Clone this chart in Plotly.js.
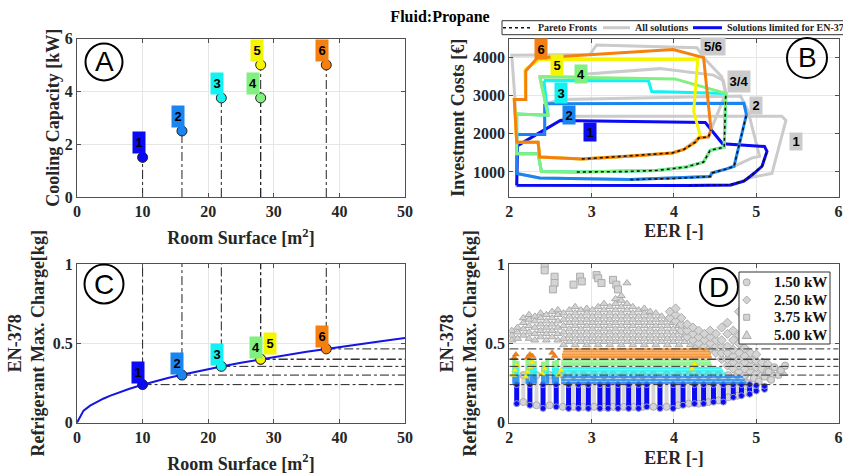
<!DOCTYPE html>
<html><head><meta charset="utf-8">
<script src="https://cdn.plot.ly/plotly-3.0.1.min.js"></script>
<style>html,body{margin:0;padding:0;background:#fff}#chart{width:843px;height:474px}</style>
</head><body><div id="chart"></div>
<script>
// ================= DATA =================
// Panels A and C : the six units
const unitLabels = ['1','2','3','4','5','6'];
const roomSurface = [10, 16, 22, 28, 28, 38];
const coolingCapacity = [1.5, 2.5, 3.75, 3.75, 5, 5];
const maxCharge = [0.24, 0.30, 0.355, 0.40, 0.40, 0.465];

// Panel C : EN-378 limit curve
const limitSurface = [0,1,2,3,4,5,6,8,10,12,14,16,18,20,22,25,28,30,33,35,38,40,43,45,48,50];
const limitCharge  = [0,0.076,0.107,0.131,0.151,0.169,0.185,0.214,0.239,0.262,0.283,0.302,0.320,0.338,0.354,0.378,0.400,0.414,0.434,0.447,0.465,0.478,0.495,0.506,0.523,0.534];

// Panel B : solution envelopes (EER, investment cost)
const allSol1X = [2.10,2.62,2.70,5.31,5.36,5.19,4.96,4.69,2.09,2.10];
const allSol1Y = [1690,2350,2460,2460,2350,960,870,650,640,1690];
const allSol2X = [2.43,2.64,4.81,4.90,5.04,4.95,4.73,4.64,4.46,4.44,3.47,2.37,2.09,2.09,2.43,2.43];
const allSol2Y = [2790,2900,2990,2600,1410,1370,1150,1080,975,880,800,840,960,1980,1980,2790];
const allSol34X = [2.47,2.37,2.80,2.90,3.83,4.48,4.60,4.63,4.61,4.44,4.36,4.15,3.79,2.82,2.39,2.35,2.09,2.09,2.47];
const allSol34Y = [2490,3500,3490,3560,3710,3540,3400,3060,1650,1570,1260,1130,1040,1000,1010,1480,1480,2520,2490];
const allSol56X = [2.07,2.03,2.98,3.06,4.28,4.36,4.58,4.63,4.45,4.42,4.30,4.12,3.98,2.88,2.37,2.35,2.09,2.07];
const allSol56Y = [2880,4060,4080,4330,4260,4000,3500,3060,2110,1920,1890,1590,1500,1340,1390,1780,1780,2880];

const lim1X = [2.09,2.10,2.62,4.38,4.41,4.59,5.10,5.13,5.07,4.97,4.85,4.69,4.18,2.09];
const lim1Y = [650,1690,2350,2300,2220,1740,1670,1540,1150,960,760,660,645,650];
const lim2X = [2.43,4.85,4.88,4.73,4.64,4.46,4.44,3.47,2.37,2.09,2.09,2.43,2.43];
const lim2Y = [2790,2800,2500,1150,1080,975,880,800,840,960,1980,1980,2790];
const lim3X = [2.42,3.69,3.73,4.63,4.61,4.44,4.36,4.15,3.79,2.82,2.39,2.35,2.09,2.09,2.47,2.42];
const lim3Y = [3400,3390,3110,3060,1650,1570,1260,1130,1040,1000,1010,1480,1480,2520,2490,3400];
const lim4X = [2.37,4.01,4.63,4.61,4.44,4.36,4.15,3.79,2.82,2.39,2.35,2.09,2.09,2.47,2.37];
const lim4Y = [3500,3440,3060,1650,1570,1260,1130,1040,1000,1010,1480,1480,2520,2490,3500];
const lim5X = [2.19,2.37,4.29,4.24,4.32,4.26,4.18,4.12,3.98,3.50,2.88,2.37,2.35,2.09,2.06,2.20,2.19];
const lim5Y = [3690,3950,3950,2590,1950,1780,1670,1590,1500,1420,1340,1390,1780,1780,2900,2900,3690];
const lim6X = [2.34,3.99,4.36,4.45,4.42,4.30,4.26,4.18,4.12,3.98,3.50,2.88,2.37,2.35,2.09,2.06,2.20,2.20,2.34];
const lim6Y = [3990,4210,4000,2110,1920,1890,1780,1670,1590,1500,1420,1340,1390,1780,1780,2900,2900,3650,3990];

const pareto1X = [4.18,4.65,4.85,4.97,5.07,5.13];
const pareto1Y = [645,660,760,960,1150,1540];
const pareto2X = [3.47,4.00,4.44,4.46,4.64,4.73,4.88];
const pareto2Y = [800,830,880,975,1080,1150,2500];
const pareto34X = [2.82,3.40,3.79,4.15,4.36,4.44,4.61,4.63];
const pareto34Y = [1000,1010,1040,1130,1260,1570,1650,3060];
const pareto56X = [2.88,3.50,3.98,4.12,4.18,4.26,4.30,4.42,4.45];
const pareto56Y = [1340,1420,1500,1590,1670,1780,1890,1920,2110];

// Panel D : all solutions (gray), [EER, list of charges]
const tri5kW = [[2.03,[0.52,0.55,0.58]],[2.10,[0.53,0.57,0.60]],[2.17,[0.55,0.59,0.63,0.66]],[2.24,[0.53,0.57,0.61,0.65,0.68]],
 [2.31,[0.52,0.56,0.60,0.64,0.67]],[2.38,[0.54,0.58,0.62,0.66,0.69]],[2.45,[0.52,0.56,0.60,0.64,0.68]],[2.52,[0.54,0.58,0.62,0.66,0.70]],
 [2.59,[0.52,0.56,0.60,0.64,0.68,0.71]],[2.66,[0.49,0.53,0.57,0.61,0.65,0.69]],[2.73,[0.51,0.55,0.59,0.63,0.67,0.71]],
 [2.80,[0.49,0.53,0.57,0.61,0.65,0.69,0.73]],[2.87,[0.51,0.55,0.59,0.63,0.67,0.71]],[2.94,[0.49,0.53,0.57,0.61,0.65,0.69,0.72]],
 [3.01,[0.51,0.55,0.59,0.63,0.67,0.71]],[3.08,[0.49,0.53,0.57,0.61,0.65,0.69,0.73]],[3.15,[0.51,0.55,0.59,0.63,0.67,0.71,0.75]],
 [3.22,[0.49,0.53,0.57,0.61,0.65,0.69,0.73]],[3.29,[0.51,0.55,0.59,0.63,0.67,0.71,0.75,0.78]],[3.36,[0.49,0.53,0.57,0.61,0.65,0.69,0.73,0.77,0.80]],
 [3.43,[0.51,0.55,0.59,0.63,0.67,0.71,0.75,0.88]],[3.50,[0.49,0.53,0.57,0.61,0.65,0.69,0.73]],[3.57,[0.51,0.55,0.59,0.63,0.67,0.71]],
 [3.64,[0.49,0.53,0.57,0.61,0.65,0.69,0.72]],[3.71,[0.51,0.55,0.59,0.63,0.67,0.70]],[3.78,[0.49,0.53,0.57,0.61,0.65,0.69]],
 [3.85,[0.51,0.55,0.59,0.63,0.67]],[3.92,[0.49,0.53,0.57,0.61,0.65]],[3.99,[0.51,0.55,0.59,0.63]],[4.06,[0.49,0.53,0.57,0.61]],
 [4.13,[0.51,0.55,0.59]],[4.20,[0.49,0.53,0.57]],[4.27,[0.48,0.52,0.56]],[4.34,[0.48,0.52]],[5.25,[0.30,0.34]],[5.33,[0.31,0.35]]];
const dia2p5kW = [[3.95,[0.66,0.70]],[4.02,[0.64,0.68,0.72]],[4.09,[0.58,0.62,0.66]],[4.16,[0.54,0.58,0.62]],[4.23,[0.52,0.56,0.60]],
 [4.30,[0.50,0.54,0.58]],[4.37,[0.48,0.52,0.56]],[4.44,[0.47,0.50,0.54,0.58]],[4.51,[0.44,0.48,0.52,0.56]],[4.58,[0.40,0.44,0.48,0.52,0.60]],
 [4.65,[0.36,0.40,0.44,0.48,0.56,0.63]],[4.72,[0.34,0.38,0.42,0.46,0.52,0.58]],[4.79,[0.32,0.36,0.40,0.44,0.50,0.55,0.70]],
 [4.86,[0.30,0.34,0.38,0.42,0.47]],[4.93,[0.32,0.36,0.40,0.44,0.58,0.64]],[5.00,[0.31,0.35,0.39,0.43,0.52,0.56,0.61]],
 [5.07,[0.30,0.34,0.38]],[5.14,[0.29,0.33,0.37]],[5.20,[0.30,0.34]]];
const sq3p75kWX = [2.43,2.43,2.55,2.55,2.53,2.78,2.86,2.88,3.06,3.08,3.12,3.26,3.30,3.32];
const sq3p75kWY = [0.99,0.96,0.92,0.88,0.84,0.87,0.92,0.89,0.93,0.91,0.88,0.90,0.87,0.84];
const circ1p5kWX = [4.90,4.97,5.03,5.10,5.15,5.18,5.22,5.27,5.30,5.35];
const circ1p5kWY = [0.25,0.28,0.26,0.29,0.32,0.27,0.35,0.30,0.33,0.36];
// gray columns among the low-charge solutions
const grayColX  = [2.17,2.33,2.49,2.65,2.78,2.90,3.03,3.15,3.26,3.39,3.51,3.62,3.75,3.91,4.05,4.18,4.30,4.42,4.54,4.66,4.77,4.87];
const grayColLo = [0.13,0.11,0.11,0.10,0.10,0.10,0.10,0.10,0.10,0.10,0.10,0.10,0.10,0.10,0.11,0.12,0.12,0.13,0.14,0.16,0.17,0.19];
const grayColHi = [0.30,0.30,0.30,0.30,0.30,0.30,0.30,0.30,0.30,0.30,0.30,0.30,0.30,0.30,0.30,0.30,0.30,0.30,0.30,0.30,0.30,0.30];
// Panel D : solutions limited for EN-378 (coloured)
const blueColX  = [2.09,2.25,2.41,2.57,2.72,2.84,2.96,3.10,3.20,3.32,3.45,3.57,3.67,3.83,3.99,4.11,4.25,4.36,4.48,4.60,4.72,4.82,4.92,5.00,5.10];
const blueColLo = [0.12,0.11,0.09,0.10,0.09,0.09,0.09,0.09,0.09,0.09,0.09,0.09,0.10,0.09,0.09,0.11,0.12,0.12,0.13,0.13,0.16,0.17,0.18,0.20,0.21];
const blueColHi = [0.24,0.24,0.24,0.24,0.24,0.24,0.24,0.24,0.24,0.24,0.24,0.24,0.24,0.24,0.24,0.24,0.24,0.24,0.24,0.24,0.24,0.24,0.24,0.235,0.23];
// dense bands (EER >= 2.63)
const lbRowY = [0.252,0.270,0.288];  const lbRowX0 = [2.63,2.63,2.63];  const lbRowX1 = [4.88,4.86,4.84];
const cyRowY = [0.310,0.327,0.344];  const cyRowX0 = [2.63,2.63,2.63];  const cyRowX1 = [4.62,4.60,4.58];
const grRowY = [0.363,0.378,0.393];  const grRowX0 = [2.63,2.63,2.63];  const grRowX1 = [4.46,4.45,4.44];
const orRowY = [0.412,0.430,0.448,0.462]; const orRowX0 = [2.64,2.64,2.65,2.66]; const orRowX1 = [4.46,4.45,4.44,4.40];
// sparse columns at low EER
const leftColX  = [2.06,2.10,2.22,2.27,2.31,2.41,2.46,2.54,2.58];
const lbLeftLo  = [0.245,0.245,0.245,0.245,0.245,0.245,0.245,0.245,0.245];
const lbLeftHi  = [0.300,0.300,0.300,0.295,0.300,0.300,0.295,0.300,0.300];
const cyLeftHi  = [0.350,0.345,0.355,0.350,0.350,0.345,0.350,0.350,0.345];
const grLeftHi  = [0.395,0.390,0.400,0.395,0.390,0.385,0.395,0.390,0.395];
const orPtX = [2.06,2.08,2.22,2.25,2.28,2.52,2.55];
const orPtY = [0.41,0.43,0.41,0.43,0.42,0.44,0.42];
const yelPtX = [2.05,2.07,2.09,2.20,2.22,2.25,2.28,2.40,2.43,2.60,2.63,4.22,4.25];
const yelPtY = [0.30,0.33,0.36,0.29,0.32,0.35,0.38,0.31,0.34,0.30,0.33,0.34,0.37];
const dLegendLabels = ['1.50 kW','2.50 kW','3.75 kW','5.00 kW'];

// ================= STYLE =================
const FONT = 'Liberation Serif, "Times New Roman", Times, serif';
const SANS = 'Liberation Sans, Arial, Helvetica, sans-serif';
const TXT = '#262626';
const unitColors = ['#0a0af5','#1a84f0','#12f2f2','#80f080','#f5f500','#f5800f'];
const GRAY = '#cbcbcb';
const TF = {family:FONT,size:18,color:TXT,weight:'bold'};

const traces = [];
function cols(list){ const x=[],y=[]; list.forEach(c=>c[1].forEach(v=>{x.push(c[0]);y.push(v);})); return {x,y}; }
function segsV(xs,lo,hi){ const x=[],y=[]; xs.forEach((v,i)=>{x.push(v,v,null);y.push(lo[i],hi[i],null);}); return {x,y}; }
function segsH(ys,x0,x1){ const x=[],y=[]; ys.forEach((v,i)=>{x.push(x0[i],x1[i],null);y.push(v,v,null);}); return {x,y}; }

// ---- Panel A
(function(){
  const x=[],y=[];
  roomSurface.forEach((r,i)=>{x.push(r,r,null);y.push(0,coolingCapacity[i],null);});
  traces.push({x,y,xaxis:'x',yaxis:'y',mode:'lines',line:{color:'#222',width:1,dash:'dashdot'},hoverinfo:'skip'});
  traces.push({x:roomSurface,y:coolingCapacity,xaxis:'x',yaxis:'y',mode:'markers',
    marker:{size:10,color:unitColors,line:{color:'#222',width:1}}});
})();

// ---- Panel C
(function(){
  const vx=[],vy=[],hx=[],hy=[];
  roomSurface.forEach((r,i)=>{vx.push(r,r,null);vy.push(maxCharge[i],1,null);hx.push(r,50,null);hy.push(maxCharge[i],maxCharge[i],null);});
  traces.push({x:vx,y:vy,xaxis:'x3',yaxis:'y3',mode:'lines',line:{color:'#222',width:1,dash:'dashdot'},hoverinfo:'skip'});
  traces.push({x:hx,y:hy,xaxis:'x3',yaxis:'y3',mode:'lines',line:{color:'#222',width:1,dash:'dashdot'},hoverinfo:'skip'});
  traces.push({x:limitSurface,y:limitCharge,xaxis:'x3',yaxis:'y3',mode:'lines',line:{color:'#1414e6',width:2}});
  traces.push({x:roomSurface,y:maxCharge,xaxis:'x3',yaxis:'y3',mode:'markers',
    marker:{size:10,color:unitColors,line:{color:'#222',width:1}}});
})();

// ---- Panel B
[[allSol1X,allSol1Y],[allSol2X,allSol2Y],[allSol34X,allSol34Y],[allSol56X,allSol56Y]].forEach(p=>{
  traces.push({x:p[0],y:p[1],xaxis:'x2',yaxis:'y2',mode:'lines',line:{color:GRAY,width:3}});
});
[[lim1X,lim1Y],[lim2X,lim2Y],[lim3X,lim3Y],[lim4X,lim4Y],[lim5X,lim5Y],[lim6X,lim6Y]].forEach((p,i)=>{
  traces.push({x:p[0],y:p[1],xaxis:'x2',yaxis:'y2',mode:'lines',line:{color:unitColors[i],width:3}});
});
[[pareto1X,pareto1Y],[pareto2X,pareto2Y],[pareto34X,pareto34Y],[pareto56X,pareto56Y]].forEach(p=>{
  traces.push({x:p[0],y:p[1],xaxis:'x2',yaxis:'y2',mode:'lines',line:{color:'#111',width:1.6,dash:'dot'}});
});

// ---- Panel D
(function(){
  const gMark = (sym)=>({symbol:sym,size:7,color:'#d4d4d4',line:{color:'#ababab',width:1}});
  let s = segsV(grayColX,grayColLo,grayColHi);
  traces.push({x:s.x,y:s.y,xaxis:'x4',yaxis:'y4',mode:'lines+markers',line:{color:'#d6d6d6',width:4},marker:gMark('circle')});
  let c = cols(tri5kW);
  traces.push({x:c.x,y:c.y,xaxis:'x4',yaxis:'y4',mode:'markers',marker:gMark('triangle-up'),name:'5.00 kW'});
  c = cols(dia2p5kW);
  traces.push({x:c.x,y:c.y,xaxis:'x4',yaxis:'y4',mode:'markers',marker:gMark('diamond'),name:'2.50 kW'});
  traces.push({x:sq3p75kWX,y:sq3p75kWY,xaxis:'x4',yaxis:'y4',mode:'markers',marker:gMark('square'),name:'3.75 kW'});
  traces.push({x:circ1p5kWX,y:circ1p5kWY,xaxis:'x4',yaxis:'y4',mode:'markers',marker:gMark('circle'),name:'1.50 kW'});
  s = segsV(blueColX,blueColLo,blueColHi);
  traces.push({x:s.x,y:s.y,xaxis:'x4',yaxis:'y4',mode:'lines+markers',line:{color:unitColors[0],width:5},
    marker:{symbol:'circle',size:6,color:unitColors[0],line:{color:'#9a9ad0',width:1}}});
  // left sparse columns
  [[lbLeftLo,lbLeftHi,1],[lbLeftHi,cyLeftHi,2],[cyLeftHi,grLeftHi,3]].forEach(b=>{
    const v = segsV(leftColX,b[0],b[1]);
    traces.push({x:v.x,y:v.y,xaxis:'x4',yaxis:'y4',mode:'lines',line:{color:unitColors[b[2]],width:4},opacity:0.85});
  });
  const bands = [[lbRowY,lbRowX0,lbRowX1,1],[cyRowY,cyRowX0,cyRowX1,2],[grRowY,grRowX0,grRowX1,3],[orRowY,orRowX0,orRowX1,5]];
  bands.forEach(b=>{
    const h = segsH(b[0],b[1],b[2]);
    traces.push({x:h.x,y:h.y,xaxis:'x4',yaxis:'y4',mode:'lines',line:{color:unitColors[b[3]],width:2.4},opacity:0.8});
  });
  traces.push({x:yelPtX,y:yelPtY,xaxis:'x4',yaxis:'y4',mode:'markers',marker:{symbol:'triangle-up',size:6,color:unitColors[4],line:{color:'#c8c850',width:0.5}}});
  traces.push({x:orPtX,y:orPtY,xaxis:'x4',yaxis:'y4',mode:'markers',marker:{symbol:'triangle-up',size:6,color:unitColors[5],line:{color:'#d07010',width:0.5}}});
  const hx=[],hy=[];
  maxCharge.forEach(m=>{hx.push(2,6,null);hy.push(m,m,null);});
  traces.push({x:hx,y:hy,xaxis:'x4',yaxis:'y4',mode:'lines',line:{color:'#333',width:1,dash:'dashdot'},hoverinfo:'skip'});
})();
traces.forEach(t=>{t.showlegend=false;});

// ================= LAYOUT =================
function axisBase(o){
  return Object.assign({
    showline:true, linecolor:'#505050', linewidth:1, mirror:'ticks',
    ticks:'inside', ticklen:4, tickwidth:1, tickcolor:'#505050',
    showgrid:true, gridcolor:'#e6e6e6', gridwidth:1, zeroline:false,
    tickfont:{family:FONT,size:16,color:TXT,weight:'bold'},
    fixedrange:true, automargin:false
  }, o);
}
const W=843,H=474;
const px=v=>v/W, py=v=>(H-v)/H;
const xA=[px(77),px(405)], xB=[px(509.3),px(838.6)];
const yT=[py(197),py(38.5)], yBt=[py(422.7),py(264)];

const shapes=[], annotations=[];
// panel letters
[['A',104,62,18.5],['B',807,58,20],['C',104,284,19.5],['D',719,287,19]].forEach(l=>{
  shapes.push({type:'circle',xref:'paper',yref:'paper',x0:px(l[1]-l[3]),x1:px(l[1]+l[3]),y0:py(l[2]+l[3]),y1:py(l[2]-l[3]),line:{color:'#000',width:2}});
  annotations.push({xref:'paper',yref:'paper',x:px(l[1]),y:py(l[2]),text:l[0],showarrow:false,xanchor:'center',yanchor:'middle',font:{family:SANS,size:28,color:'#000'}});
});
// unit labels A and C
const labFont={family:SANS,size:13,color:'#000',weight:'bold'};
roomSurface.forEach((r,i)=>{
  annotations.push({xref:'x',yref:'y',x:r,y:coolingCapacity[i],text:unitLabels[i],showarrow:false,xanchor:'right',yanchor:'bottom',
    xshift:(i===3?-1:3),yshift:3,width:12,height:21,bgcolor:unitColors[i],borderpad:0,font:labFont});
  annotations.push({xref:'x3',yref:'y3',x:r,y:maxCharge[i],text:unitLabels[i],showarrow:false,xanchor:(i===4?'left':'right'),yanchor:'bottom',
    xshift:(i===4?2:2.5),yshift:(i===4?4.5:0.5),width:12,height:21,bgcolor:unitColors[i],borderpad:0,font:labFont});
});
// panel B labels
[['6',2.38,4213,5,12,20],['5',2.582,3800,4,12,20],['4',2.869,3559,3,12,18],['3',2.626,3058,2,12,20],['2',2.723,2488,1,12,18],['1',2.977,2050,0,12,18],
 ['5/6',4.475,4281,-1,24,17],['3/4',4.794,3375,-1,22,21],['2',5.0,2751,-1,12,17],['1',5.478,1787,-1,12,17]].forEach(b=>{
  annotations.push({xref:'x2',yref:'y2',x:b[1],y:b[2],text:b[0],showarrow:false,xanchor:'center',yanchor:'middle',
    width:b[4],height:b[5],bgcolor:(b[3]>=0?unitColors[b[3]]:GRAY),borderpad:0,font:labFont});
});
// panel B legend (box above the plot)
shapes.push({type:'rect',xref:'paper',yref:'paper',x0:px(502),x1:px(850),y0:py(34.7),y1:py(20.7),line:{color:'#333',width:1},fillcolor:'#fff'});
shapes.push({type:'line',xref:'paper',yref:'paper',x0:px(503),x1:px(532),y0:py(27.7),y1:py(27.7),line:{color:'#111',width:1.6,dash:'dot'}});
shapes.push({type:'line',xref:'paper',yref:'paper',x0:px(603),x1:px(630),y0:py(27.7),y1:py(27.7),line:{color:GRAY,width:3}});
shapes.push({type:'line',xref:'paper',yref:'paper',x0:px(693),x1:px(722),y0:py(27.7),y1:py(27.7),line:{color:unitColors[0],width:3}});
const legF={family:FONT,size:10,color:'#222',weight:'bold'};
[['Pareto Fronts',536],['All solutions',633],['Solutions limited for EN-378',725]].forEach(t=>{
  annotations.push({xref:'paper',yref:'paper',x:px(t[1]),y:py(27.7),text:t[0],showarrow:false,xanchor:'left',yanchor:'middle',font:legF});
});
// panel D legend (box inside the plot)
shapes.push({type:'rect',xref:'paper',yref:'paper',x0:px(739),x1:px(830),y0:py(344),y1:py(272),line:{color:'#333',width:1},fillcolor:'#fff'});
const mk={fillcolor:'#d4d4d4',line:{color:'#ababab',width:1}};
const lx=746.7, rows=[282.3,300,317.3,335];
const P=(x,y)=>px(x)+','+py(y);
shapes.push(Object.assign({type:'circle',xref:'paper',yref:'paper',x0:px(lx-3.5),x1:px(lx+3.5),y0:py(rows[0]+3.5),y1:py(rows[0]-3.5)},mk));
shapes.push(Object.assign({type:'path',xref:'paper',yref:'paper',path:'M'+P(lx,rows[1]-4)+'L'+P(lx+4,rows[1])+'L'+P(lx,rows[1]+4)+'L'+P(lx-4,rows[1])+'Z'},mk));
shapes.push(Object.assign({type:'rect',xref:'paper',yref:'paper',x0:px(lx-3),x1:px(lx+3),y0:py(rows[2]+3),y1:py(rows[2]-3)},mk));
shapes.push(Object.assign({type:'path',xref:'paper',yref:'paper',path:'M'+P(lx,rows[3]-4.5)+'L'+P(lx+4.5,rows[3]+3.5)+'L'+P(lx-4.5,rows[3]+3.5)+'Z'},mk));
dLegendLabels.forEach((t,i)=>{
  annotations.push({xref:'paper',yref:'paper',x:px(772),y:py(rows[i]),text:t,showarrow:false,xanchor:'left',yanchor:'middle',
    font:{family:FONT,size:15,color:'#111',weight:'bold'}});
});

const layout = {
  width:W, height:H, margin:{l:0,r:0,t:0,b:0}, paper_bgcolor:'#fff', plot_bgcolor:'#fff',
  showlegend:false,
  title:{text:'Fluid:Propane', x:px(440), y:py(16), xref:'paper', yref:'paper', xanchor:'center', yanchor:'middle',
    font:{family:FONT,size:16,color:'#000',weight:'bold'}},
  xaxis: axisBase({domain:xA, range:[0,50], tickvals:[0,10,20,30,40,50], anchor:'y', title:{text:'Room Surface [m<sup>2</sup>]',font:TF,standoff:12}}),
  yaxis: axisBase({domain:yT, range:[0,6], tickvals:[0,2,4,6], anchor:'x', title:{text:'Cooling Capacity [kW]',font:TF,standoff:0}}),
  xaxis2: axisBase({domain:xB, range:[2,6], tickvals:[2,3,4,5,6], anchor:'y2', title:{text:'EER [-]',font:TF,standoff:5}}),
  yaxis2: axisBase({domain:yT, range:[344,4500], tickvals:[1000,2000,3000,4000], anchor:'x2', title:{text:'Investment Costs [€]',font:TF,standoff:3}}),
  xaxis3: axisBase({domain:xA, range:[0,50], tickvals:[0,10,20,30,40,50], anchor:'y3', title:{text:'Room Surface [m<sup>2</sup>]',font:TF,standoff:12}}),
  yaxis3: axisBase({domain:yBt, range:[0,1], tickvals:[0,0.5,1], ticktext:['0','0.5','1'], anchor:'x3', title:{text:'EN-378<br>Refrigerant Max. Charge[kg]',font:TF,standoff:3}}),
  xaxis4: axisBase({domain:xB, range:[2,6], tickvals:[2,3,4,5,6], anchor:'y4', title:{text:'EER [-]',font:TF,standoff:6}}),
  yaxis4: axisBase({domain:yBt, range:[0,1], tickvals:[0,0.5,1], ticktext:['0','0.5','1'], anchor:'x4', title:{text:'EN-378<br>Refrigerant Max. Charge[kg]',font:TF,standoff:3}}),
  shapes, annotations
};
Plotly.newPlot('chart', traces, layout, {staticPlot:true, displayModeBar:false});
</script></body></html>
